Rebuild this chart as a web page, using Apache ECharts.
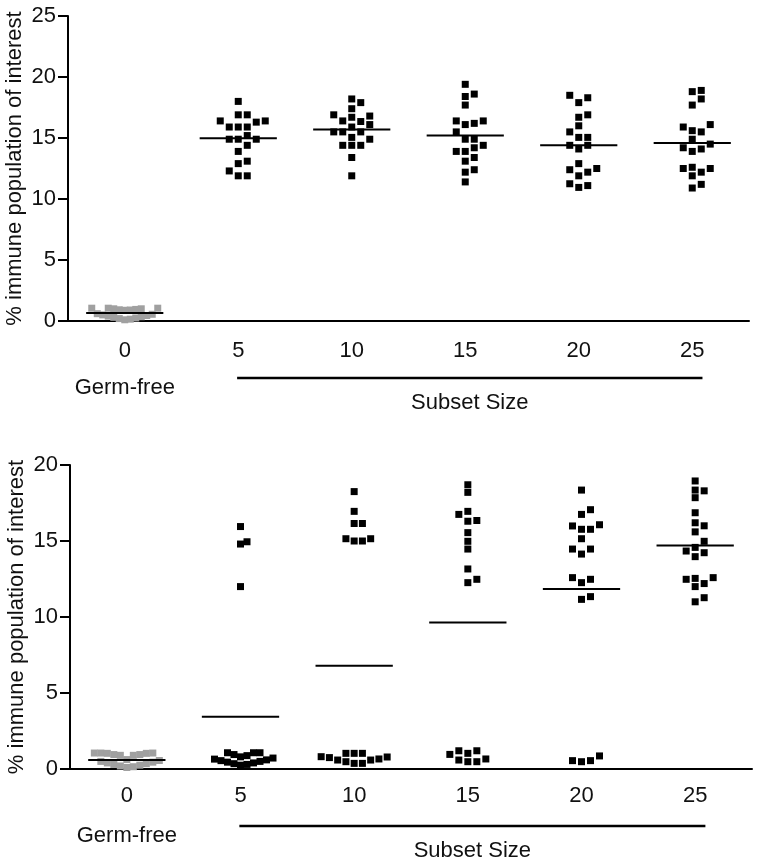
<!DOCTYPE html>
<html>
<head>
<meta charset="utf-8">
<script src="https://cdn.jsdelivr.net/npm/echarts@6/dist/echarts.min.js"></script>
<style>
html,body{margin:0;padding:0;background:#fff;}
#chart{width:762px;height:865px;}
</style>
</head>
<body>
<div id="chart"></div>
<script>
// ---------- data ----------
const groupPositions = [0, 5, 10, 15, 20, 25];
const xTickLabels = ['0', '5', '10', '15', '20', '25'];
const yAxisName = '% immune population of interest';
const leftGroupLabel = 'Germ-free';
const bracketLabel = 'Subset Size';

// Top panel
const topGermFree = [1.05, 1.05, 1.0, 0.95, 0.9, 0.88, 0.92, 1.0, 1.05, 0.6, 0.55, 0.5, 0.45, 0.4, 0.35, 0.3, 0.25, 0.2, 0.15, 0.1];
const topSize5  = [18.0, 16.9, 16.9, 16.4, 16.4, 16.3, 15.9, 15.9, 15.9, 15.2, 14.9, 14.9, 14.9, 14.4, 13.9, 13.1, 12.9, 12.3, 11.9, 11.9];
const topSize10 = [18.2, 17.9, 17.4, 16.9, 16.8, 16.7, 16.4, 16.35, 16.1, 15.9, 15.5, 15.5, 15.5, 15.05, 14.9, 14.4, 14.4, 14.4, 13.4, 11.9];
const topSize15 = [19.4, 18.6, 18.4, 17.7, 16.4, 16.4, 16.2, 16.1, 15.5, 14.9, 14.9, 14.4, 14.2, 13.9, 13.9, 13.4, 13.1, 12.4, 12.2, 11.4];
const topSize20 = [18.5, 18.3, 17.9, 16.9, 16.7, 16.0, 15.5, 15.05, 15.05, 14.4, 14.4, 14.1, 12.9, 12.5, 12.4, 12.2, 11.9, 11.25, 11.1, 10.95];
const topSize25 = [18.9, 18.8, 18.2, 17.7, 16.1, 15.9, 15.6, 15.5, 14.9, 14.5, 14.2, 14.1, 13.9, 12.6, 12.5, 12.5, 12.2, 11.9, 11.2, 10.9];
const topMeans  = [0.65, 14.97, 15.7, 15.2, 14.4, 14.6];
const topYMax = 25;

// Bottom panel
const botGermFree = [1.05, 1.05, 1.03, 0.95, 0.9, 0.9, 0.95, 1.03, 1.05, 0.62, 0.56, 0.5, 0.45, 0.4, 0.35, 0.3, 0.25, 0.2, 0.15, 0.1];
const botSize5  = [15.95, 14.95, 14.8, 12.0, 1.07, 1.07, 1.07, 0.95, 0.88, 0.8, 0.72, 0.65, 0.6, 0.55, 0.5, 0.45, 0.4, 0.35, 0.3, 0.25];
const botSize10 = [18.25, 16.95, 16.15, 16.15, 15.15, 15.15, 15.0, 15.0, 1.03, 1.03, 1.03, 0.81, 0.79, 0.75, 0.66, 0.59, 0.59, 0.48, 0.37, 0.37];
const botSize15 = [18.7, 18.2, 16.95, 16.75, 16.35, 16.3, 15.55, 14.98, 14.47, 13.16, 12.48, 12.26, 1.2, 1.2, 1.03, 0.96, 0.66, 0.59, 0.48, 0.48];
const botSize20 = [18.35, 17.06, 16.75, 16.07, 15.99, 15.77, 15.77, 15.15, 14.47, 14.47, 14.14, 12.59, 12.48, 12.26, 11.34, 11.16, 0.86, 0.55, 0.55, 0.48];
const botSize25 = [18.95, 18.35, 18.3, 17.85, 16.86, 16.2, 16.0, 15.6, 14.98, 14.58, 14.34, 14.23, 13.97, 12.59, 12.54, 12.48, 12.2, 12.0, 11.27, 11.0];
const botMeans  = [0.6, 3.44, 6.8, 9.63, 11.84, 14.71];
const botYMax = 20;
const yStep = 5;

// ---------- layout / style ----------
const FONT = 'Liberation Sans, Arial, Helvetica, sans-serif';
const GRAY = '#a0a0a0';
const panels = [
  { groups: [topGermFree, topSize5, topSize10, topSize15, topSize20, topSize25], means: topMeans, yMax: topYMax,
    grid: { left: 68, top: 16, width: 681, height: 305 }, labelMargin: 19 },
  { groups: [botGermFree, botSize5, botSize10, botSize15, botSize20, botSize25], means: botMeans, yMax: botYMax,
    grid: { left: 70, top: 465, width: 682, height: 304 }, labelMargin: 16 }
];
const X_MIN = -2.5, X_MAX = 27.5;
const MARK = 7;

// simple beeswarm: offsets in pixels computed from values
function swarm(values, pxY) {
  const order = values.map((v, i) => i).sort((a, b) => values[a] - values[b]);
  const maxHalf = 33, hGap = 7.5;
  let result = null;
  for (let d = 9; d >= 4; d -= 0.25) {
    const placed = [];
    const off = new Array(values.length);
    let ok = true;
    for (const i of order) {
      const y = values[i] * pxY;
      let best = 0;
      for (let s = 0; s < 400; s++) {
        const cand = s === 0 ? 0 : (s % 2 ? 1 : -1) * Math.ceil(s / 2) * d / 2;
        const free = placed.every(p => Math.abs(p.x - cand) >= d - 1e-6 || Math.abs(p.y - y) >= hGap);
        if (free) { best = cand; break; }
      }
      placed.push({ x: best, y: y });
      off[i] = best;
      if (Math.abs(best) > maxHalf) ok = false;
    }
    result = off;
    if (ok) break;
  }
  return result;
}

const grids = [], xAxes = [], yAxes = [], series = [];
panels.forEach((pn, gi) => {
  grids.push(Object.assign({ containLabel: false, outerBoundsMode: 'none' }, pn.grid));
  const pxX = pn.grid.width / (X_MAX - X_MIN);
  const pxY = pn.grid.height / pn.yMax;
  // visible category axis (labels/ticks)
  xAxes.push({
    type: 'category', gridIndex: gi, data: xTickLabels, boundaryGap: true,
    axisLine: { onZero: false, lineStyle: { color: '#000', width: 2 } },
    axisTick: { alignWithLabel: true, length: 9, lineStyle: { color: '#000', width: 2 } },
    axisLabel: { color: '#111', fontSize: 22, fontFamily: FONT, margin: pn.labelMargin },
    splitLine: { show: false }
  });
  // hidden value axis for positioning data
  xAxes.push({ type: 'value', gridIndex: gi, min: X_MIN, max: X_MAX, show: false, splitLine: { show: false } });
  yAxes.push({
    type: 'value', gridIndex: gi, min: 0, max: pn.yMax, interval: yStep,
    name: yAxisName, nameLocation: 'middle', nameGap: 42, nameMoveOverlap: false,
    nameTextStyle: { color: '#111', fontSize: 22, fontFamily: FONT },
    axisLine: { show: true, onZero: false, lineStyle: { color: '#000', width: 2 } },
    axisTick: { show: true, length: 10, lineStyle: { color: '#000', width: 2 } },
    axisLabel: { color: '#111', fontSize: 22, fontFamily: FONT, margin: 12 },
    splitLine: { show: false }
  });
  const xi = gi * 2 + 1;
  pn.groups.forEach((vals, k) => {
    const offs = swarm(vals, pxY);
    series.push({
      type: 'scatter', xAxisIndex: xi, yAxisIndex: gi, symbol: 'rect', symbolSize: MARK,
      itemStyle: { color: k === 0 ? GRAY : '#000', opacity: 1 },
      data: vals.map((v, i) => [groupPositions[k] + offs[i] / pxX, v]),
      silent: true, z: 2, animation: false
    });
  });
  // mean lines
  series.push({
    type: 'custom', xAxisIndex: xi, yAxisIndex: gi, z: 5, silent: true, animation: false,
    data: groupPositions.map((g, k) => [g, pn.means[k]]),
    renderItem: function (params, api) {
      const a = api.coord([api.value(0) - 1.7, api.value(1)]);
      const b = api.coord([api.value(0) + 1.7, api.value(1)]);
      return { type: 'line', shape: { x1: a[0], y1: a[1], x2: b[0], y2: b[1] },
               style: { stroke: '#000', lineWidth: 2 } };
    }
  });
  // bracket + group texts
  series.push({
    type: 'custom', xAxisIndex: xi, yAxisIndex: gi, z: 5, silent: true, animation: false, clip: false,
    data: [[0, 0]],
    renderItem: function (params, api) {
      const y0 = api.coord([0, 0])[1];
      const xg = api.coord([groupPositions[0], 0])[0];
      const xs = api.coord([groupPositions[1] - 0.05, 0])[0];
      const xe = api.coord([groupPositions[5] + 0.45, 0])[0];
      return { type: 'group', children: [
        { type: 'line', shape: { x1: xs, y1: y0 + 57, x2: xe, y2: y0 + 57 }, style: { stroke: '#000', lineWidth: 2.5 } },
        { type: 'text', style: { text: leftGroupLabel, x: xg, y: y0 + 67, align: 'center', verticalAlign: 'middle',
            fontSize: 22, fontFamily: FONT, fill: '#111' } },
        { type: 'text', style: { text: bracketLabel, x: (xs + xe) / 2, y: y0 + 82, align: 'center', verticalAlign: 'middle',
            fontSize: 22, fontFamily: FONT, fill: '#111' } }
      ] };
    }
  });
});

const chart = echarts.init(document.getElementById('chart'), null, { renderer: 'canvas' });
chart.setOption({
  backgroundColor: '#fff',
  animation: false,
  grid: grids,
  xAxis: xAxes,
  yAxis: yAxes,
  series: series
});
</script>
</body>
</html>
